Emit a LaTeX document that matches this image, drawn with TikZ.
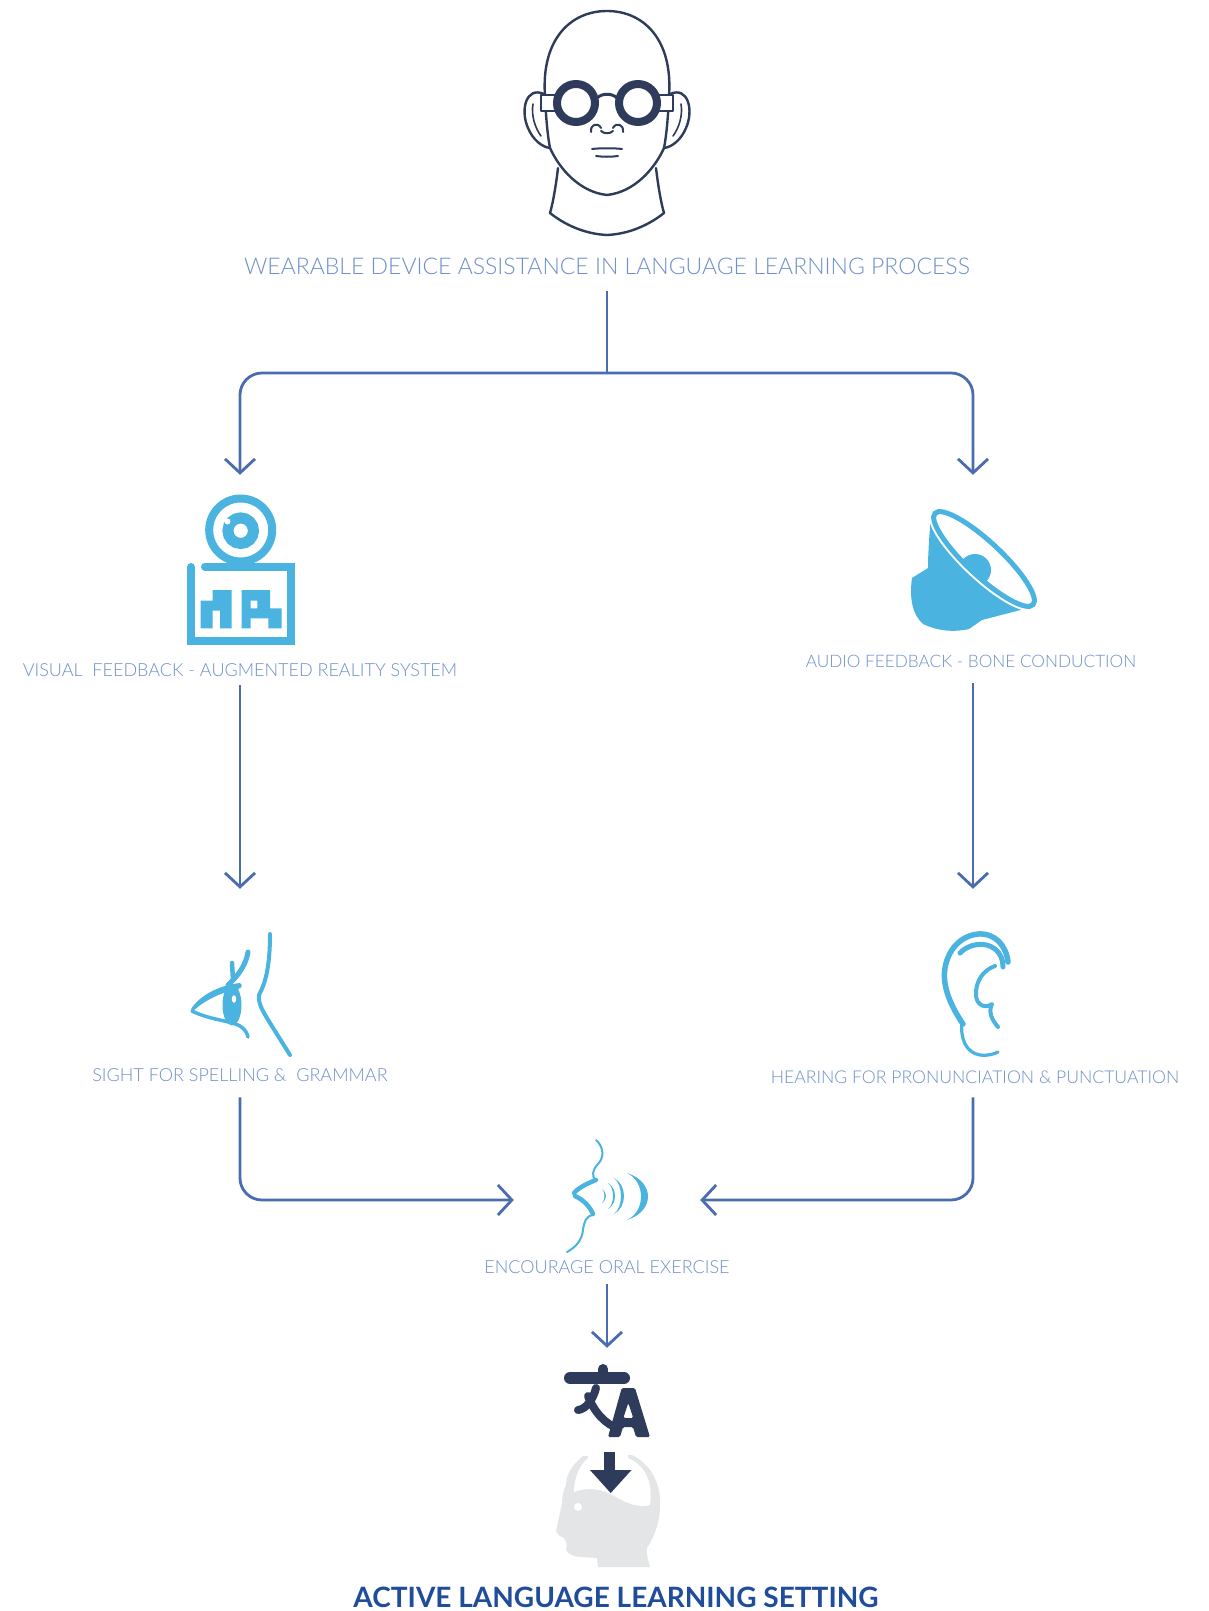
\documentclass[tikz,border=0pt]{standalone}
\usepackage{fontspec}
\usetikzlibrary{arrows.meta}
\IfFontExistsTF{Lato Light}{\newfontfamily\thinfont{Lato Light}}{\newfontfamily\thinfont{Lato}}
\newfontfamily\heavyfont{Lato}

\definecolor{linkblue}{HTML}{4A6CB0}
\definecolor{labelblue}{HTML}{6F8FCA}
\definecolor{iconcyan}{HTML}{4AB3E0}
\definecolor{navy}{HTML}{2E3B5A}
\definecolor{headgrey}{HTML}{E3E5E6}
\definecolor{deepblue}{HTML}{1F4C9B}

\begin{document}
\begin{tikzpicture}[x=1pt,y=-1pt,
  conn/.style={draw=linkblue, line width=2.8pt},
  tip/.style={-{Straight Barb[length=14pt,width=30pt]}},
  lbl/.style={anchor=base, inner sep=0pt, text=labelblue,
              font=\thinfont\fontsize{18}{20}\selectfont},
  slot/.style n args={2}{inner sep=0pt, minimum width=#1, minimum height=#2}]

\fill[white] (0,0) rectangle (1208,1611);
\useasboundingbox (0,0) rectangle (1208,1611);

% ---------- head wearing glasses ----------
\begin{scope}[navy, line width=2.4pt, line cap=round, line join=round]
  \draw (545,96) .. controls (541,40) and (570,11) .. (607,11)
        .. controls (644,11) and (673,40) .. (669,96)
        .. controls (668,120) and (666,138) .. (664,148)
        .. controls (655,168) and (635,192) .. (607,195)
        .. controls (579,192) and (559,168) .. (550,148)
        .. controls (548,138) and (546,120) .. (545,96);
  \draw (544,94) .. controls (526,86) and (520,110) .. (528,128)
        .. controls (533,140) and (542,147) .. (550,148);
  \draw (670,94) .. controls (688,86) and (694,110) .. (686,128)
        .. controls (681,140) and (672,147) .. (664,148);
  \draw[line width=1.6pt] (533,104) .. controls (531,115) and (535,128) .. (541,136);
  \draw[line width=1.6pt] (681,104) .. controls (683,115) and (679,128) .. (673,136);
  \draw (558,168) .. controls (556,185) and (553,203) .. (550,213)
        .. controls (565,225) and (585,234) .. (607,235)
        .. controls (629,234) and (649,225) .. (664,213)
        .. controls (661,203) and (658,185) .. (656,168);
  \filldraw[fill=white, line width=1.8pt] (541,95) rectangle (555,111);
  \filldraw[fill=white, line width=1.8pt] (659,95) rectangle (673,111);
  \draw[line width=8pt] (576,103) circle [radius=19];
  \draw[line width=8pt] (638,103) circle [radius=19];
  \draw[line width=3pt] (597,98) .. controls (602,93) and (612,93) .. (617,98);
  \draw[line width=2pt] (591,132) .. controls (590,124) and (598,122) .. (601,128);
  \draw[line width=2pt] (623,132) .. controls (624,124) and (616,122) .. (613,128);
  \draw[line width=2pt] (601,131) .. controls (604,134) and (610,134) .. (613,131);
  \draw[line width=2pt] (592,149) .. controls (600,148) and (614,148) .. (622,149);
  \draw[line width=2pt] (596,156) .. controls (603,157) and (611,157) .. (618,156);
\end{scope}

% ---------- labels ----------
\node[lbl, font=\thinfont\fontsize{23}{26}\selectfont] (title) at (607,274)
  {WEARABLE DEVICE ASSISTANCE IN LANGUAGE LEARNING PROCESS};
\node[lbl] (arlbl) at (240,676) {VISUAL\ \ FEEDBACK - AUGMENTED REALITY SYSTEM};
\node[lbl, font=\thinfont\fontsize{17.2}{20}\selectfont] (spklbl) at (971,667) {AUDIO FEEDBACK - BONE CONDUCTION};
\node[lbl] (sightlbl) at (240,1081) {SIGHT FOR SPELLING \&\ \ GRAMMAR};
\node[lbl, font=\thinfont\fontsize{17.6}{20}\selectfont] (hearlbl) at (975,1083) {HEARING FOR PRONUNCIATION \& PUNCTUATION};
\node[lbl] (enclbl) at (607,1273) {ENCOURAGE ORAL EXERCISE};
\node[anchor=base, inner sep=0pt, text=deepblue,
      font=\heavyfont\bfseries\fontsize{28}{30}\selectfont] (goal) at (616,1607)
  {ACTIVE LANGUAGE LEARNING SETTING};

% ---------- icon slots ----------
\node[slot={110pt}{152pt}] (ar) at (240,570) {};
\node[slot={124pt}{124pt}] (spk) at (973,570) {};
\node[slot={104pt}{126pt}] (eye) at (240,993) {};
\node[slot={70pt}{124pt}] (ear) at (973,994) {};
\node[slot={80pt}{116pt}] (talk) at (607,1200) {};
\node[slot={90pt}{78pt}] (trans) at (607,1400) {};
\node[slot={104pt}{116pt}] (mind) at (607,1510) {};
\coordinate (split) at (607,373);

% ---------- AR camera icon ----------
\begin{scope}[iconcyan]
  \draw[line width=8pt] (240.7,530) circle [radius=31.5];
  \draw[line width=11pt] (240.7,530.7) circle [radius=12.8];
  \fill[white] (227.5,521.5) circle [radius=3];
  \draw[line width=8pt, line cap=round] (205,566.7) -- (291.3,566.7) -- (291.3,641) -- (191,641) -- (191,567);
  \fill (200.7,600.7) -- (212.7,600.7) -- (212.7,590) -- (231.7,590) -- (231.7,628.3)
        -- (220,628.3) -- (220,610.7) -- (212.7,610.7) -- (212.7,628.3) -- (200.7,628.3) -- cycle;
  \fill[even odd rule] (241.7,590) -- (270,590) -- (270,608.3) -- (281.7,608.3) -- (281.7,628.3)
        -- (268.3,628.3) -- (268.3,618.3) -- (250.7,618.3) -- (250.7,628.3) -- (241.7,628.3) -- cycle
        (250.7,600.7) rectangle (257.3,608.3);
\end{scope}

% ---------- loudspeaker icon ----------
\begin{scope}[iconcyan]
  \fill (931,514) .. controls (929,540) and (928,555) .. (928,568) -- (912,578)
        .. controls (909,600) and (913,615) .. (923,624)
        .. controls (940,632) and (956,632) .. (969,629) -- (982,620) -- (1032,607)
        -- (984,559) -- cycle;
  \draw[white, line width=9pt, rotate around={-43:(984,559)}] (984,559) ellipse [x radius=67, y radius=17];
  \fill[white, rotate around={-43:(984,559)}] (984,559) ellipse [x radius=67, y radius=17];
  \begin{scope}
    \clip[rotate around={-43:(984,559)}] (984,559) ellipse [x radius=67, y radius=17];
    \fill (975,570) circle [radius=16];
  \end{scope}
  \draw[line width=5pt, rotate around={-43:(984,559)}] (984,559) ellipse [x radius=67, y radius=17];
\end{scope}

% ---------- eye icon ----------
\begin{scope}[iconcyan, line cap=round, line join=round]
  \draw[line width=4pt] (270,934) .. controls (270,965) and (266,982) .. (259,995)
        .. controls (258,1003) and (262,1010) .. (270,1023) -- (290,1055);
  \fill (191,1009) .. controls (200,995) and (220,985) .. (240,983)
        .. controls (243,985) and (242,988) .. (238,989)
        .. controls (222,992) and (205,1000) .. (193,1011) -- cycle;
  \draw[line width=3.5pt] (192,1011) .. controls (210,1020) and (232,1021) .. (240,1026)
        .. controls (245,1029) and (247,1033) .. (248,1037);
  \fill (232,1005) ellipse [x radius=9.5, y radius=20.5];
  \fill[white] (234,999) ellipse [x radius=2.2, y radius=3.8];
  \draw[line width=5pt] (248,952) .. controls (246,965) and (238,976) .. (228,985);
  \draw[line width=4.5pt] (232,963) -- (233,980);
\end{scope}

% ---------- ear icon ----------
\begin{scope}[iconcyan, line cap=round, line join=round]
  \draw[line width=5.5pt] (963,1024) .. controls (950,1005) and (942,985) .. (945,968)
        .. controls (948,950) and (960,936) .. (978,934)
        .. controls (995,933) and (1006,945) .. (1008,962);
  \draw[line width=3.2pt] (962,1022) .. controls (960,1038) and (966,1053) .. (980,1055)
        .. controls (988,1056) and (994,1054) .. (998,1052);
  \draw[line width=5pt] (960,953) .. controls (968,944) and (985,941) .. (995,949)
        .. controls (1001,954) and (1003,960) .. (1003,967);
  \draw[line width=4pt] (995,966) .. controls (983,970) and (975,982) .. (976,996)
        .. controls (977,1005) and (985,1009) .. (992,1004)
        .. controls (988,1012) and (992,1020) .. (998,1027);
\end{scope}

% ---------- speaking profile icon ----------
\begin{scope}[iconcyan, line cap=round, line join=round]
  \draw[line width=2pt] (596,1140) .. controls (603,1146) and (605,1157) .. (598,1164)
        .. controls (592,1170) and (592,1176) .. (595,1180);
  \draw[line width=4.5pt] (596,1180) .. controls (588,1183) and (578,1188) .. (574,1193);
  \draw[line width=4.5pt] (575,1196) .. controls (584,1200) and (590,1207) .. (593,1214);
  \draw[line width=2pt] (593,1215) .. controls (586,1216) and (584,1222) .. (583,1230)
        .. controls (582,1240) and (576,1247) .. (567,1252);
  \fill (602,1189) .. controls (607.3,1192) and (607.3,1200) .. (602,1203)
        .. controls (605.3,1200) and (605.3,1192) .. (602,1189) -- cycle;
  \fill (608,1183) .. controls (617.3,1188) and (617.3,1204) .. (608,1209)
        .. controls (614.7,1204) and (614.7,1188) .. (608,1183) -- cycle;
  \fill (614,1178) .. controls (627.3,1185) and (627.3,1207) .. (614,1214)
        .. controls (623.3,1207) and (623.3,1185) .. (614,1178) -- cycle;
  \fill (627,1173) .. controls (655,1182) and (655,1211) .. (627,1220)
        .. controls (645.7,1211) and (645.7,1182) .. (627,1173) -- cycle;
\end{scope}

% ---------- translation glyph icon ----------
\begin{scope}[navy, line cap=round, line join=round]
  \draw[line width=12pt] (570,1378) -- (624,1378);
  \draw[line width=10pt] (603,1369) -- (603,1378);
  \draw[line width=8pt] (596,1388) .. controls (593,1400) and (586,1409) .. (578,1410);
  \draw[line width=8pt] (588,1396) .. controls (594,1412) and (606,1425) .. (618,1428);
  \fill[even odd rule, rounded corners=1.5pt] (608,1437) -- (621.7,1388) -- (635,1388) -- (650,1437)
        -- (636,1437) -- (633,1427) -- (623,1427) -- (620,1437) -- cycle
        (623.3,1418) -- (628.3,1403) -- (633.3,1418) -- cycle;
\end{scope}

% ---------- learner head with incoming arrow ----------
\fill[headgrey] (583,1456) .. controls (572,1465) and (566,1475) .. (566,1485)
      .. controls (563,1492) and (562,1498) .. (562,1504) -- (556,1531)
      .. controls (558,1535) and (561,1537) .. (564,1538) -- (567,1544) -- (566,1550)
      .. controls (569,1555) and (575,1557) .. (582,1557) -- (597,1558) -- (598,1567)
      -- (650,1567) .. controls (648,1560) and (646,1553) .. (647,1548)
      .. controls (655,1535) and (660,1522) .. (660,1505)
      .. controls (661,1485) and (652,1465) .. (632,1455) -- cycle;
\fill[white] (588,1445) -- (588,1458) .. controls (579,1466) and (574,1478) .. (574,1492)
      .. controls (590,1486) and (605,1490) .. (616,1497)
      .. controls (628,1504) and (640,1508) .. (650,1505)
      .. controls (653,1485) and (647,1466) .. (628,1458) -- (628,1445) -- cycle;
\fill[white] (578,1507) circle [radius=4];
\fill[navy] (603.5,1452) rectangle (615,1471);
\fill[navy] (590,1470) -- (631.5,1470) -- (610.7,1493) -- cycle;

% ---------- connectors ----------
\draw[conn] (title.south) ++(0,17) -- (split);
\draw[conn, tip, rounded corners=22pt] (split) -| ([yshift=19pt]ar.north);
\draw[conn, tip, rounded corners=22pt] (split) -| ([yshift=33pt]spk.north);
\draw[conn, tip] ([yshift=-9pt]arlbl.south -| eye.north) -- ([yshift=41pt]eye.north);
\draw[conn, tip] ([yshift=-16pt]spklbl.south -| ear.north) -- ([yshift=43pt]ear.north);
\draw[conn, tip, rounded corners=22pt] ([yshift=-16pt]sightlbl.south -| eye.south) |- ([xshift=-53pt]talk.west);
\draw[conn, tip, rounded corners=22pt] ([yshift=-14pt]hearlbl.south -| ear.south) |- ([xshift=53pt]talk.east);
\draw[conn, tip] ([yshift=-11pt]enclbl.south) -- ([yshift=13pt]trans.north);
\end{tikzpicture}
\end{document}
